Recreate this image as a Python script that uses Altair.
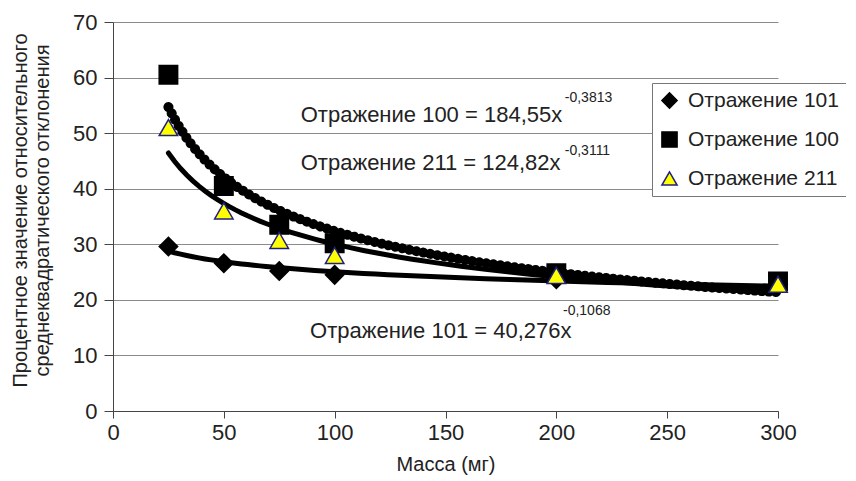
import altair as alt
import pandas as pd

# ---- data ----
mass = [25, 50, 75, 100, 200, 300]
refl_101 = [29.6, 26.6, 25.2, 24.5, 23.7, 22.8]
refl_100 = [60.5, 40.5, 33.5, 30.2, 24.8, 23.3]
refl_211 = [51.0, 36.0, 30.7, 28.0, 24.4, 22.8]
series_names = ["Отражение 101", "Отражение 100", "Отражение 211"]

x_ticks = [0, 50, 100, 150, 200, 250, 300]
y_ticks = [0, 10, 20, 30, 40, 50, 60, 70]

eq_text = ["Отражение 100 = 184,55x", "Отражение 211 = 124,82x", "Отражение 101 = 40,276x"]
eq_exp = ["-0,3813", "-0,3111", "-0,1068"]
eq_x = [84.7, 84.7, 88.9]
eq_y = [52.0, 43.3, 13.2]
exp_x = [203.8, 203.8, 203.0]
exp_y = [55.6, 46.1, 17.3]

FONT = "Liberation Sans"
TXT = "#222222"

rows = []
for name, vals in zip(series_names, [refl_101, refl_100, refl_211]):
    for m, v in zip(mass, vals):
        rows.append({"series": name, "mass": m, "value": v})
df = pd.DataFrame(rows)

eq_df = pd.DataFrame({"mass": eq_x, "value": eq_y, "label": eq_text})
exp_df = pd.DataFrame({"mass": exp_x, "value": exp_y, "label": eq_exp})

xscale = alt.Scale(domain=[0, 300], nice=False, zero=False)
yscale = alt.Scale(domain=[0, 70], nice=False, zero=False)

x_enc = alt.X("mass:Q", scale=xscale,
              axis=alt.Axis(title="Масса (мг)", values=x_ticks, grid=False,
                            tickSize=7, labelPadding=4, titleY=59,
                            labelFlush=False, labelOverlap=False,
                            titleBaseline="alphabetic"))
y_enc = alt.Y("value:Q", scale=yscale,
              axis=alt.Axis(title=["Процентное значение относительного",
                                   "среднеквадратического отклонения"],
                            values=y_ticks, grid=True, tickSize=9, labelPadding=7,
                            labelFlush=False, labelOverlap=False,
                            titleX=-83, titleY=188, titleAlign="center",
                            titleBaseline="bottom", titleLineHeight=22))

base = alt.Chart(df)

trend = base.transform_regression(
    "mass", "value", method="pow", groupby=["series"], extent=[25, 300]
).mark_line(color="black", strokeWidth=5, strokeCap="round").encode(
    x=x_enc, y=y_enc, detail="series:N")

trend_dotted = base.transform_filter(
    alt.datum.series == "Отражение 100"
).transform_regression(
    "mass", "value", method="pow", extent=[25, 300]
).mark_line(color="black", strokeWidth=10, strokeDash=[0.1, 7], strokeCap="round").encode(
    x=x_enc, y=y_enc)

points = base.mark_point(size=340, opacity=1, fillOpacity=1, strokeWidth=1.5).encode(
    x=x_enc, y=y_enc,
    shape=alt.Shape("series:N", sort=series_names,
                    scale=alt.Scale(domain=series_names,
                                    range=["diamond", "square", "triangle-up"]),
                    legend=alt.Legend(title=None)),
    fill=alt.Fill("series:N", sort=series_names,
                  scale=alt.Scale(domain=series_names,
                                  range=["#000000", "#000000", "#FFFF00"]),
                  legend=alt.Legend(title=None)),
    stroke=alt.Stroke("series:N", sort=series_names,
                      scale=alt.Scale(domain=series_names,
                                      range=["#000000", "#000000", "#1F1F80"]),
                      legend=alt.Legend(title=None)),
)

eq_main = alt.Chart(eq_df).mark_text(
    align="left", baseline="alphabetic", fontSize=22, font=FONT, color=TXT
).encode(x=x_enc, y=y_enc, text="label:N")

eq_sup = alt.Chart(exp_df).mark_text(
    align="left", baseline="alphabetic", fontSize=14, font=FONT, color=TXT
).encode(x=x_enc, y=y_enc, text="label:N")

chart = alt.layer(trend, trend_dotted, points, eq_main, eq_sup).properties(
    width=665, height=389,
    autosize=alt.AutoSizeParams(type="none"),
    padding={"left": 105, "top": 14, "right": 68, "bottom": 64},
).configure_view(stroke=None).configure_axis(
    domainColor="#444444", tickColor="#444444", gridColor="#8a8a8a",
    gridWidth=1, domainWidth=1, tickWidth=1,
    labelFont=FONT, labelFontSize=22, labelColor=TXT,
    titleFont=FONT, titleFontSize=20, titleColor=TXT, titleFontWeight="normal",
).configure_legend(
    orient="none", legendX=539, legendY=61,
    strokeColor="#777777", fillColor="white", padding=7, cornerRadius=0,
    labelFont=FONT, labelFontSize=21, labelColor=TXT, labelOffset=8,
    symbolSize=230, rowPadding=16, symbolStrokeWidth=1.5, labelLimit=300,
)

chart.save("out.html", embed_options={"renderer": "svg", "actions": False})
